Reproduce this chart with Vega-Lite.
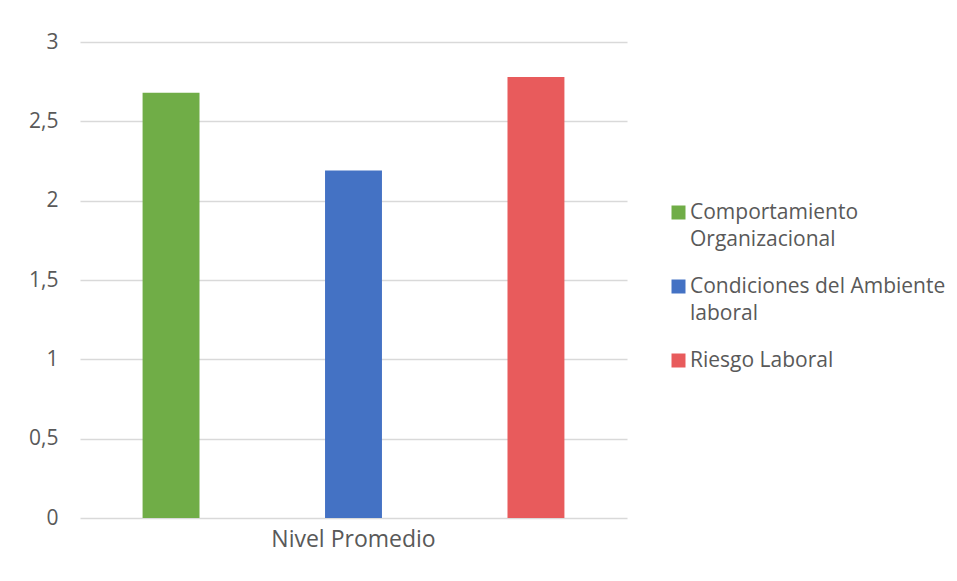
{
  "$schema": "https://vega.github.io/schema/vega-lite/v6.json",
  "width": 547,
  "height": 476,
  "autosize": {"type": "none"},
  "padding": {"left": 80, "top": 42, "right": 330, "bottom": 63},
  "background": "white",
  "data": {
    "values": [
      {"categoria": "Nivel Promedio", "serie": "Comportamiento Organizacional", "valor": 2.68},
      {"categoria": "Nivel Promedio", "serie": "Condiciones del Ambiente laboral", "valor": 2.19},
      {"categoria": "Nivel Promedio", "serie": "Riesgo Laboral", "valor": 2.78}
    ]
  },
  "mark": {"type": "bar"},
  "encoding": {
    "x": {
      "field": "categoria",
      "type": "nominal",
      "scale": {"paddingInner": 0, "paddingOuter": 0},
      "axis": {"title": null, "labelAngle": 0, "domain": false, "ticks": false, "labelPadding": 10, "labelFontSize": 23, "labelColor": "#595959", "labelFont": "Open Sans"}
    },
    "xOffset": {
      "field": "serie",
      "type": "nominal",
      "scale": {"paddingInner": 0.688, "paddingOuter": 0.343},
      "sort": ["Comportamiento Organizacional", "Condiciones del Ambiente laboral", "Riesgo Laboral"]
    },
    "y": {
      "field": "valor",
      "type": "quantitative",
      "scale": {"domain": [0, 3]},
      "axis": {"title": null, "values": [0, 0.5, 1, 1.5, 2, 2.5, 3], "labelExpr": "replace(format(datum.value, '~g'), '.', ',')", "domain": false, "ticks": false, "labelPadding": 22, "labelFontSize": 21, "labelColor": "#595959", "labelFont": "Open Sans", "gridColor": "#D9D9D9", "gridWidth": 1.5}
    },
    "color": {
      "field": "serie",
      "type": "nominal",
      "sort": ["Comportamiento Organizacional", "Condiciones del Ambiente laboral", "Riesgo Laboral"],
      "scale": {"range": ["#70AD47", "#4472C4", "#E85B5C"]},
      "legend": {
        "title": null,
        "orient": "none",
        "legendX": 588,
        "legendY": 160,
        "symbolType": "square",
        "symbolSize": 196,
        "symbolStrokeWidth": 0,
        "labelFontSize": 21,
        "labelFont": "Open Sans",
        "labelColor": "#595959",
        "labelLimit": 300,
        "labelOffset": 1,
        "rowPadding": 25,
        "labelExpr": "datum.label == 'Comportamiento Organizacional' ? ['Comportamiento', 'Organizacional'] : datum.label == 'Condiciones del Ambiente laboral' ? ['Condiciones del Ambiente', 'laboral'] : datum.label"
      }
    }
  },
  "config": {
    "view": {"stroke": null},
    "style": {"guide-label": {"lineHeight": 27}}
  }
}
